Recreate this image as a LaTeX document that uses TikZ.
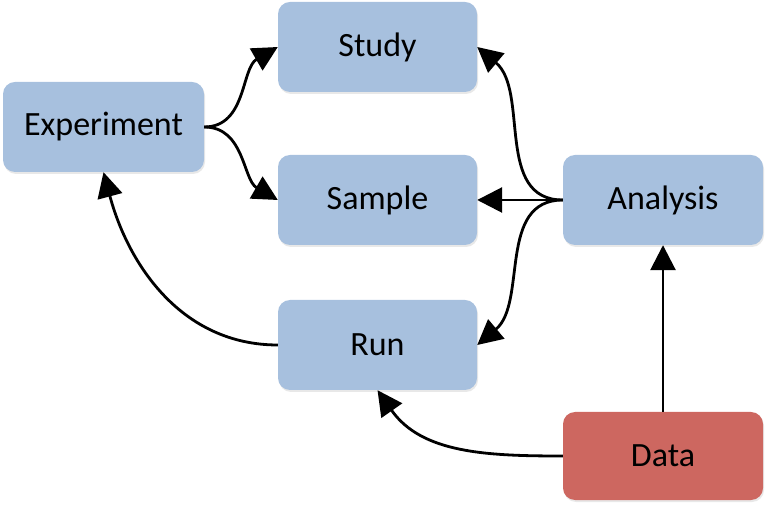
\documentclass[tikz,border=0pt]{standalone}
\usepackage{fontspec}
\setmainfont{Carlito}
\usetikzlibrary{arrows.meta,shadows}
\definecolor{boxblue}{RGB}{167,192,222}
\definecolor{boxred}{RGB}{205,103,96}
\begin{document}
\begin{tikzpicture}[x=1pt,y=1pt,
  box/.style={rounded corners=12pt, minimum width=199pt, minimum height=90pt, inner sep=0pt,
    font=\fontsize{34}{40}\selectfont, text=black,
    drop shadow={opacity=0.18, shadow xshift=1pt, shadow yshift=-2pt}},
  bluebox/.style={box, fill=boxblue},
  redbox/.style={box, fill=boxred, minimum height=88pt},
  conn/.style={line width=2.8pt, -{Triangle[length=25pt,width=25pt]}, shorten >=0pt}]
\useasboundingbox (0,0) rectangle (767,508);
\node[bluebox] (study) at (377.5,461) {Study};
\node[bluebox, minimum width=201pt] (exp) at (103.5,381) {Experiment};
\node[bluebox] (sample) at (377.5,308) {Sample};
\node[bluebox, minimum width=200pt] (analysis) at (663,308) {Analysis};
\node[bluebox] (run) at (377.5,163) {Run};
\node[redbox, minimum width=200pt] (data) at (663,52) {Data};
\draw[conn] (exp.east) to[out=0,in=210] (study.west);
\draw[conn] (exp.east) to[out=0,in=150] (sample.west);
\draw[conn] (analysis.west) to[out=180,in=-40] (study.east);
\draw[conn] (analysis.west) -- (sample.east);
\draw[conn] (analysis.west) to[out=180,in=40] (run.east);
\draw[conn] (data.north) -- (analysis.south);
\draw[conn] (data.west) to[out=180,in=-55] (run.south);
\draw[conn] (run.west) to[out=180,in=-75] (exp.south);
\end{tikzpicture}
\end{document}
